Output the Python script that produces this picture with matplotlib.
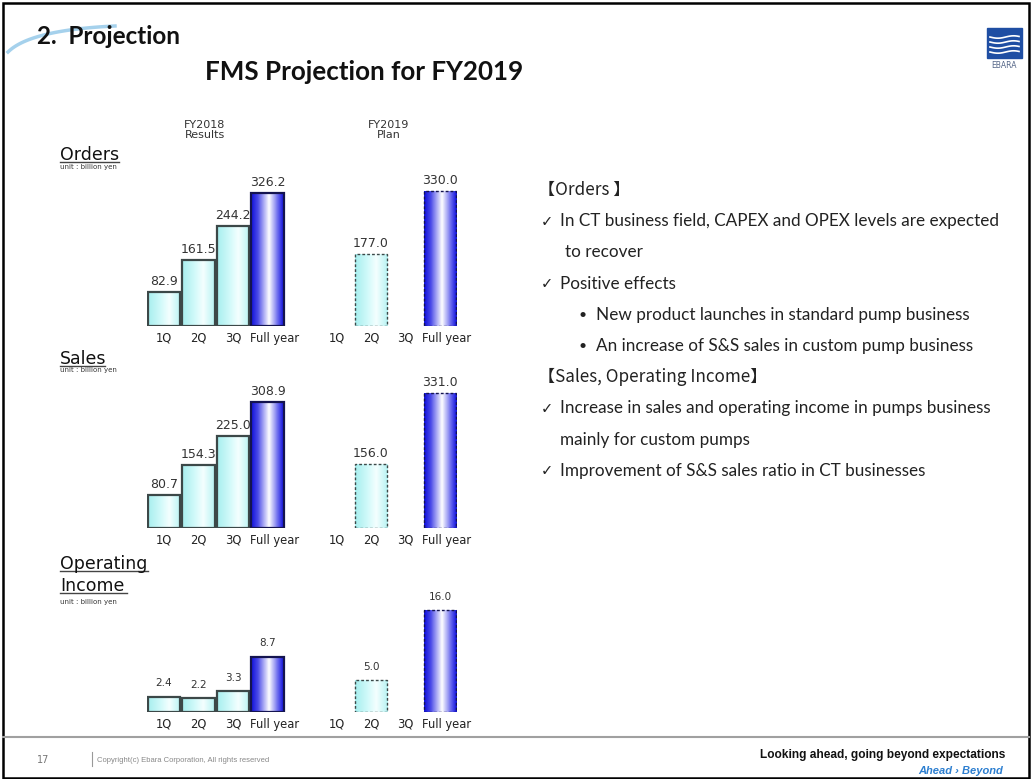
import numpy as np
import matplotlib.pyplot as plt
from matplotlib.colors import LinearSegmentedColormap
from matplotlib.patches import Rectangle
from matplotlib.lines import Line2D
from matplotlib.transforms import ScaledTranslation

# data
quarters = ['1Q', '2Q', '3Q', 'Full year']
orders_2018 = [82.9, 161.5, 244.2, 326.2]
orders_2019 = [None, 177.0, None, 330.0]
sales_2018 = [80.7, 154.3, 225.0, 308.9]
sales_2019 = [None, 156.0, None, 331.0]
oi_2018 = [2.4, 2.2, 3.3, 8.7]
oi_2019 = [None, 5.0, None, 16.0]

notes = [
    ('head', '【Orders 】'),
    ('check', 'In CT business field, CAPEX and OPEX levels are expected'),
    ('cont', 'to recover'),
    ('check', 'Positive effects'),
    ('bullet', 'New product launches in standard pump business'),
    ('bullet', 'An increase of S&S sales in custom pump business'),
    ('head', '【Sales, Operating Income】'),
    ('check', 'Increase in sales and operating income in pumps business'),
    ('cont2', 'mainly for custom pumps'),
    ('check', 'Improvement of S&S sales ratio in CT businesses'),
]

W, H = 1032, 779
fig = plt.figure(figsize=(W / 100, H / 100), dpi=100)
fig.patch.set_facecolor('white')


def fx(x):
    return x / W


def fy(y):
    return 1 - y / H


def box(x0, y0, x1, y1):
    return [fx(x0), fy(y1), (x1 - x0) / W, (y1 - y0) / H]


TXT = ['Lato', 'DejaVu Sans', 'Noto Sans CJK JP']
quarter_cm = LinearSegmentedColormap.from_list(
    'q', [(0, '#a8eeee'), (0.35, '#cdf9f9'), (0.65, '#f4ffff'), (1, '#b8f3f3')])
full_cm = LinearSegmentedColormap.from_list(
    'f', [(0, '#1010dc'), (0.2, '#4a4ae8'), (0.55, '#ffffff'), (0.85, '#5a5aec'), (1, '#1010dc')])
grad = np.linspace(0, 1, 64).reshape(1, -1)

pos18 = [0, 1, 2, 3]
pos19 = [5, 6, 7, 8]
width = 0.93


def draw_panel(ax, v18, v19, ymax, val_size, val_pad):
    for pos, vals, plan in ((pos18, v18, False), (pos19, v19, True)):
        for p, v, q in zip(pos, vals, quarters):
            if v is None:
                continue
            full = q == 'Full year'
            ec = '#141450' if full else '#3c4848'
            bars = ax.bar(p, v, width=width, facecolor='none', edgecolor=ec,
                          linewidth=1.0 if plan else 1.6,
                          linestyle=(0, (2, 1.5)) if plan else '-', zorder=3)
            rect = bars[0]
            im = ax.imshow(grad, extent=[p - width / 2, p + width / 2, 0, v],
                           aspect='auto', cmap=full_cm if full else quarter_cm,
                           interpolation='bilinear', zorder=2)
            im.set_clip_path(rect)
            ax.bar_label(bars, labels=[f'{v:.1f}'], padding=val_pad,
                         fontsize=val_size, color='#333333', family='DejaVu Sans')
    ax.set_xlim(-0.5, 8.5)
    ax.set_ylim(0, ymax)
    ax.set_xticks(pos18 + pos19, quarters * 2)
    ax.tick_params(axis='x', length=0, pad=4, labelsize=8.3, labelcolor='#222222')
    # "Full year" sits a little to the right of its bar on the slide
    shift = ScaledTranslation(7 / 100, 0, fig.dpi_scale_trans)
    for lab in ax.get_xticklabels():
        if lab.get_text() == 'Full year':
            lab.set_transform(lab.get_transform() + shift)
    ax.set_yticks([])
    for s in ax.spines.values():
        s.set_visible(False)
    ax.patch.set_alpha(0)


# bar panels: x from 146.75 to 457.25 px (34.5 px per slot)
ax1 = fig.add_axes(box(146.75, 170, 457.25, 326))
draw_panel(ax1, orders_2018, orders_2019, 156 / 0.408, 9, 3)
ax2 = fig.add_axes(box(146.75, 372, 457.25, 528))
draw_panel(ax2, sales_2018, sales_2019, 156 / 0.408, 9, 3)
ax3 = fig.add_axes(box(146.75, 590, 457.25, 712))
draw_panel(ax3, oi_2018, oi_2019, 122 / 6.35, 7.5, 6)

# column headers
fig.text(fx(205), fy(130), 'FY2018\nResults', ha='center', va='center',
         fontsize=8, color='#333333', family='DejaVu Sans', linespacing=1.1)
fig.text(fx(389), fy(130), 'FY2019\nPlan', ha='center', va='center',
         fontsize=8, color='#333333', family='DejaVu Sans', linespacing=1.1)


def panel_title(lines, y0, unit_y):
    y = y0
    for t in lines:
        fig.text(fx(60), fy(y), t, ha='left', va='baseline', fontsize=12.5,
                 color='#111111', family='DejaVu Sans')
        y += 22
    fig.text(fx(60), fy(unit_y), 'unit : billion yen', ha='left', va='center',
             fontsize=5, color='#333333', family='DejaVu Sans')


panel_title(['Orders'], 160, 167)
fig.add_artist(Line2D([fx(60), fx(119)], [fy(162), fy(162)], color='#444444', lw=1))
panel_title(['Sales'], 364, 370)
fig.add_artist(Line2D([fx(60), fx(105)], [fy(366), fy(366)], color='#444444', lw=1))
panel_title(['Operating', 'Income'], 569, 602)
fig.add_artist(Line2D([fx(60), fx(148)], [fy(571), fy(571)], color='#444444', lw=1))
fig.add_artist(Line2D([fx(60), fx(127)], [fy(593), fy(593)], color='#444444', lw=1))

# slide titles
fig.text(fx(37), fy(37), '2.  Projection', ha='left', va='center', fontsize=17.5,
         fontweight='bold', color='#111111', family='Lato')
fig.text(fx(205), fy(72), 'FMS Projection for FY2019', ha='left', va='center',
         fontsize=18.7, fontweight='bold', color='#111111', family='Lato')

# right hand notes
fs = 12.3
y = 190
for kind, t in notes:
    if kind == 'head':
        fig.text(fx(538), fy(y), t, ha='left', va='center', fontsize=fs,
                 color='#222222', family=['Noto Sans CJK JP', 'Lato'])
    elif kind == 'check':
        fig.text(fx(541), fy(y), '✓', ha='left', va='center', fontsize=10.5,
                 color='#222222', family='DejaVu Sans')
        fig.text(fx(560), fy(y), t, ha='left', va='center', fontsize=fs,
                 color='#222222', family=TXT)
    elif kind == 'cont':
        fig.text(fx(565), fy(y), t, ha='left', va='center', fontsize=fs,
                 color='#222222', family=TXT)
    elif kind == 'cont2':
        fig.text(fx(560), fy(y), t, ha='left', va='center', fontsize=fs,
                 color='#222222', family=TXT)
    else:
        fig.text(fx(578), fy(y), '•', ha='left', va='center', fontsize=10,
                 color='#222222', family=TXT)
        fig.text(fx(596), fy(y), t, ha='left', va='center', fontsize=fs,
                 color='#222222', family=TXT)
    y += 31.2

# decoration: frame, swoosh, separator, logo
fig.add_artist(Rectangle((fx(3), fy(778)), (1026) / W, 775 / H, fill=False,
                         edgecolor='black', lw=1.8))
t = np.linspace(0, 1, 40)
sx = (1 - t) ** 2 * 8 + 2 * (1 - t) * t * 30 + t ** 2 * 115
sy = (1 - t) ** 2 * 52 + 2 * (1 - t) * t * 30 + t ** 2 * 26
fig.add_artist(Line2D(fx(sx), fy(sy), color='#8fc6e8', lw=2.5, alpha=0.8))
fig.add_artist(Line2D([fx(3), fx(1029)], [fy(737), fy(737)], color='#a0a0a0', lw=1.5))

fig.add_artist(Rectangle((fx(987), fy(58)), 35 / W, 30 / H, color='#1f4ea3'))
for yy in (37, 42, 47, 52):
    xs = np.linspace(990, 1019, 20)
    fig.add_artist(Line2D(fx(xs), fy(yy + 1.2 * np.sin((xs - 990) / 5)),
                          color='white', lw=1.2))
fig.text(fx(1004), fy(66), 'EBARA', ha='center', va='center', fontsize=5.5,
         color='#556688', family='DejaVu Sans')

# footer
fig.text(fx(37), fy(760), '17', ha='left', va='center', fontsize=7,
         color='#777777', family='DejaVu Sans')
fig.add_artist(Line2D([fx(92), fx(92)], [fy(752), fy(766)], color='#999999', lw=0.8))
fig.text(fx(97), fy(760), 'Copyright(c) Ebara Corporation, All rights reserved',
         ha='left', va='center', fontsize=5.5, color='#888888', family='Liberation Sans')
fig.text(fx(1005), fy(755), 'Looking ahead, going beyond expectations', ha='right',
         va='center', fontsize=8.6, fontweight='bold', color='#111111',
         family='Liberation Sans')
fig.text(fx(1003), fy(771), 'Ahead \u203a Beyond', ha='right', va='center',
         fontsize=8, fontweight='bold', style='italic', color='#2d7fd0',
         family='Liberation Sans')

fig.savefig('out.png', dpi=100)
